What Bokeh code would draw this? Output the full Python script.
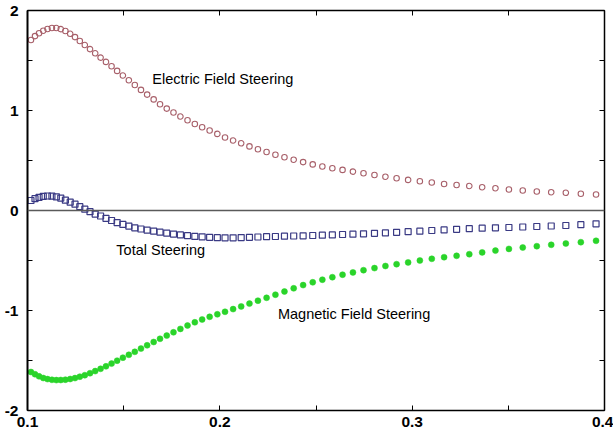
from bokeh.plotting import figure
from bokeh.models import Range1d, FixedTicker, LinearAxis, Span, Label
from bokeh.embed import file_html
from bokeh.resources import INLINE

# ---- data ----
x_vals = [0.1018, 0.1039, 0.1060, 0.1082, 0.1104, 0.1127, 0.1150, 0.1173, 0.1197, 0.1222,
          0.1247, 0.1272, 0.1298, 0.1325, 0.1352, 0.1380, 0.1408, 0.1437, 0.1466, 0.1496,
          0.1527, 0.1558, 0.1590, 0.1622, 0.1656, 0.1689, 0.1724, 0.1759, 0.1795, 0.1832,
          0.1870, 0.1908, 0.1947, 0.1987, 0.2027, 0.2069, 0.2111, 0.2154, 0.2198, 0.2243,
          0.2289, 0.2336, 0.2384, 0.2433, 0.2483, 0.2533, 0.2585, 0.2638, 0.2692, 0.2747,
          0.2804, 0.2861, 0.2919, 0.2979, 0.3040, 0.3102, 0.3166, 0.3231, 0.3297, 0.3364,
          0.3433, 0.3503, 0.3575, 0.3648, 0.3723, 0.3799, 0.3877, 0.3956]

electric = [1.705, 1.744, 1.773, 1.798, 1.815, 1.825, 1.825, 1.814, 1.795, 1.767,
            1.734, 1.695, 1.655, 1.614, 1.572, 1.529, 1.486, 1.442, 1.396, 1.350,
            1.303, 1.255, 1.206, 1.159, 1.111, 1.062, 1.019, 0.980, 0.940, 0.902,
            0.865, 0.833, 0.800, 0.766, 0.730, 0.700, 0.672, 0.641, 0.613, 0.585,
            0.558, 0.532, 0.508, 0.484, 0.461, 0.440, 0.423, 0.406, 0.389, 0.372,
            0.355, 0.338, 0.322, 0.306, 0.293, 0.280, 0.265, 0.255, 0.245, 0.233,
            0.223, 0.210, 0.200, 0.190, 0.183, 0.177, 0.167, 0.160]

total = [0.100, 0.118, 0.132, 0.142, 0.145, 0.143, 0.137, 0.124, 0.103, 0.083,
         0.063, 0.038, 0.013, -0.012, -0.036, -0.055, -0.078, -0.100, -0.121, -0.139,
         -0.156, -0.173, -0.185, -0.196, -0.207, -0.217, -0.227, -0.236, -0.244, -0.252,
         -0.259, -0.263, -0.268, -0.272, -0.273, -0.273, -0.271, -0.268, -0.265, -0.262,
         -0.260, -0.257, -0.255, -0.253, -0.250, -0.247, -0.244, -0.240, -0.237, -0.233,
         -0.228, -0.224, -0.218, -0.212, -0.207, -0.200, -0.194, -0.188, -0.182, -0.177,
         -0.173, -0.170, -0.165, -0.160, -0.155, -0.150, -0.142, -0.133]

magnetic = [-1.615, -1.637, -1.658, -1.675, -1.686, -1.693, -1.696, -1.695, -1.692, -1.685,
            -1.676, -1.662, -1.647, -1.627, -1.606, -1.583, -1.558, -1.531, -1.502, -1.472,
            -1.443, -1.413, -1.381, -1.348, -1.315, -1.283, -1.251, -1.218, -1.184, -1.150,
            -1.118, -1.090, -1.063, -1.038, -1.013, -0.986, -0.959, -0.931, -0.902, -0.873,
            -0.842, -0.810, -0.778, -0.746, -0.718, -0.692, -0.667, -0.642, -0.619, -0.597,
            -0.576, -0.555, -0.537, -0.519, -0.500, -0.483, -0.467, -0.453, -0.437, -0.419,
            -0.401, -0.384, -0.370, -0.357, -0.343, -0.330, -0.317, -0.303]

x_ticks = [0.1, 0.2, 0.3, 0.4]
x_tick_labels = ["0.1", "0.2", "0.3", "0.4"]
x_half_ticks = [0.15, 0.25, 0.35]
y_ticks = [2, 1, 0, -1, -2]
y_tick_labels = ["2", "1", "0", "-1", "-2"]
y_half_ticks = [1.5, 0.5, -0.5, -1.5]

series_labels = ["Electric Field Steering", "Total Steering", "Magnetic Field Steering"]

# ---- figure ----
p = figure(width=613, height=434, x_range=Range1d(0.1, 0.4), y_range=Range1d(-2, 2),
           output_backend="svg", toolbar_location=None,
           x_axis_location=None, y_axis_location=None,
           min_border_left=27, min_border_right=9, min_border_top=10, min_border_bottom=24)
p.background_fill_color = "white"
p.border_fill_color = "white"
p.outline_line_color = "black"
p.outline_line_width = 1
p.grid.visible = False


def style_axis(ax, side):
    ax.major_tick_in = 5
    ax.major_tick_out = 0
    ax.minor_tick_in = 5
    ax.minor_tick_out = 0
    ax.major_tick_line_color = "black"
    ax.minor_tick_line_color = "black"
    ax.major_tick_line_width = 1
    ax.minor_tick_line_width = 1
    ax.axis_line_color = "black"
    ax.axis_line_width = 2 if side == "left" else 1.5
    ax.major_label_text_font = "Liberation Sans"
    ax.major_label_text_font_style = "bold"
    ax.major_label_text_font_size = "15.5px"
    ax.major_label_text_color = "black"


# labelled axes (left, below)
left = LinearAxis(ticker=FixedTicker(ticks=y_ticks, minor_ticks=y_half_ticks),
                  major_label_overrides={v: t for v, t in zip(y_ticks, y_tick_labels)})
style_axis(left, "left")
left.major_label_standoff = 9
p.add_layout(left, "left")

below = LinearAxis(ticker=FixedTicker(ticks=x_ticks, minor_ticks=x_half_ticks),
                   major_label_overrides={v: t for v, t in zip(x_ticks, x_tick_labels)})
style_axis(below, "below")
below.major_label_standoff = 6
p.add_layout(below, "below")

# mirrored axes (right, above): ticks only, no labels
right = LinearAxis(ticker=FixedTicker(ticks=[], minor_ticks=y_ticks + y_half_ticks))
style_axis(right, "right")
p.add_layout(right, "right")

above = LinearAxis(ticker=FixedTicker(ticks=[], minor_ticks=x_ticks + x_half_ticks))
style_axis(above, "above")
p.add_layout(above, "above")

p.add_layout(Span(location=0, dimension="width", line_color="#5a5a5a", line_width=1.5))

p.scatter(x_vals, electric, marker="circle", size=5.5, fill_color=None,
          line_color="#a8606a", line_width=1.1)
p.scatter(x_vals, total, marker="square", size=6, fill_color=None,
          line_color="#3a3a84", line_width=1.2)
p.scatter(x_vals, magnetic, marker="circle", size=6, fill_color="#2ad42a",
          line_color="#2ad42a", line_width=0.5)

# series annotations
ann_pos = [(0.1649, 1.32), (0.1462, -0.39), (0.2302, -1.03)]
for txt, (ax_, ay_) in zip(series_labels, ann_pos):
    p.add_layout(Label(x=ax_, y=ay_, text=txt, text_font="Liberation Sans",
                       text_font_size="14.5px", text_color="black",
                       text_align="left", text_baseline="middle"))

open("out.html", "w").write(file_html(p, INLINE))
